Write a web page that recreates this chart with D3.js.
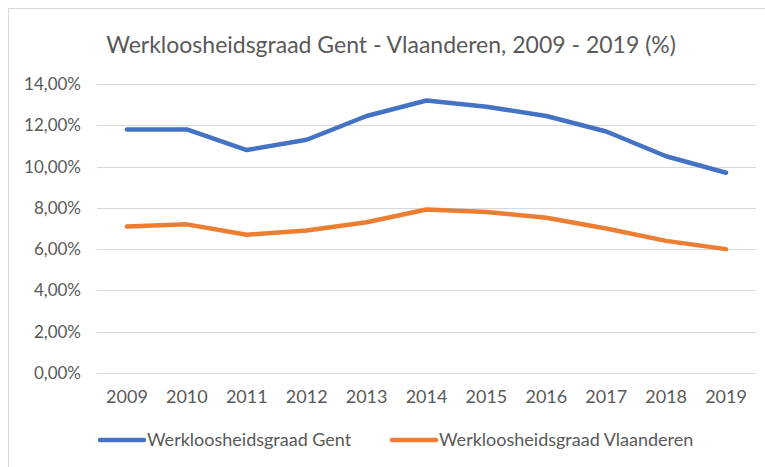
<!DOCTYPE html>
<html>
<head>
<meta charset="utf-8">
<script src="https://cdn.jsdelivr.net/npm/d3@7"></script>
<style>
    html, body { margin: 0; padding: 0; background: #fff; }
    svg text { font-family: Lato, "Open Sans", sans-serif; fill: #595959; }
</style>
</head>
<body>
<div id="chart"></div>
<script>
// data
const years = ['2009', '2010', '2011', '2012', '2013', '2014', '2015', '2016', '2017', '2018', '2019'];
const gent = [11.8, 11.8, 10.8, 11.3, 12.45, 13.2, 12.9, 12.45, 11.7, 10.5, 9.7];
const vlaanderen = [7.1, 7.2, 6.7, 6.9, 7.3, 7.92, 7.8, 7.52, 7.0, 6.4, 6.0];
const yTicks = [0, 2, 4, 6, 8, 10, 12, 14];
const seriesNames = ['Werkloosheidsgraad Gent', 'Werkloosheidsgraad Vlaanderen'];
const seriesColors = ['#4472C4', '#ED7D31'];

const width = 765, height = 467;
// plot area
const margin = {top: 84, right: 9, bottom: 94, left: 97};
const plotW = width - margin.left - margin.right,
    plotH = height - margin.top - margin.bottom;

const nl = d3.formatLocale({decimal: ',', thousands: '.', grouping: [3], currency: ['€', '']});
const fmt = v => nl.format('.2f')(v) + '%';

const svg = d3.select('#chart')
    .append('svg')
    .attr('width', width)
    .attr('height', height);

// chart frame (runs off the right and bottom edge in the reference)
svg.append('rect')
    .attr('x', 8.5).attr('y', 8.5)
    .attr('width', width + 10).attr('height', height + 10)
    .attr('fill', '#fff')
    .attr('stroke', '#d9d9d9');

svg.append('text')
    .attr('x', 391)
    .attr('y', 53)
    .attr('text-anchor', 'middle')
    .style('font-size', '23px')
    .text('Werkloosheidsgraad Gent - Vlaanderen, 2009 - 2019 (%)');

const g = svg.append('g')
    .attr('transform', `translate(${margin.left},${margin.top})`);

const x = d3.scaleBand()
    .domain(years)
    .range([0, plotW]);

const y = d3.scaleLinear()
    .domain([0, 14])
    .range([plotH, 0]);

// gridlines
g.append('g')
    .selectAll('line')
    .data(yTicks)
    .join('line')
    .attr('x1', 0).attr('x2', plotW)
    .attr('y1', d => Math.round(y(d)) + 0.5)
    .attr('y2', d => Math.round(y(d)) + 0.5)
    .attr('stroke', '#d9d9d9')
    .attr('stroke-width', 1);

// y axis labels
const yAxis = g.append('g')
    .call(d3.axisLeft(y).tickValues(yTicks).tickFormat(fmt).tickSize(0).tickPadding(16));
yAxis.select('.domain').remove();
yAxis.selectAll('text')
    .style('font-size', '17px')
    .attr('fill', '#595959');

// x axis labels
const xAxis = g.append('g')
    .attr('transform', `translate(0,${plotH})`)
    .call(d3.axisBottom(x).tickSize(0).tickPadding(17));
xAxis.select('.domain').remove();
xAxis.selectAll('text')
    .style('font-size', '18px')
    .attr('fill', '#595959');

const line = d3.line()
    .x((d, i) => x(years[i]) + x.bandwidth() / 2)
    .y(d => y(d));

[gent, vlaanderen].forEach((series, i) => {
    g.append('path')
        .datum(series)
        .attr('fill', 'none')
        .attr('stroke', seriesColors[i])
        .attr('stroke-width', 4.5)
        .attr('stroke-linejoin', 'round')
        .attr('stroke-linecap', 'round')
        .attr('d', line);
});

// legend
const legendX = [100, 392];
const legend = svg.append('g')
    .attr('transform', 'translate(0,440)');
seriesNames.forEach((name, i) => {
    legend.append('line')
        .attr('x1', legendX[i]).attr('x2', legendX[i] + 44)
        .attr('y1', 0).attr('y2', 0)
        .attr('stroke', seriesColors[i])
        .attr('stroke-width', 4.5)
        .attr('stroke-linecap', 'round');
    legend.append('text')
        .attr('x', legendX[i] + 47)
        .attr('y', 0)
        .attr('dy', '0.35em')
        .style('font-size', '18px')
        .text(name);
});
</script>
</body>
</html>
